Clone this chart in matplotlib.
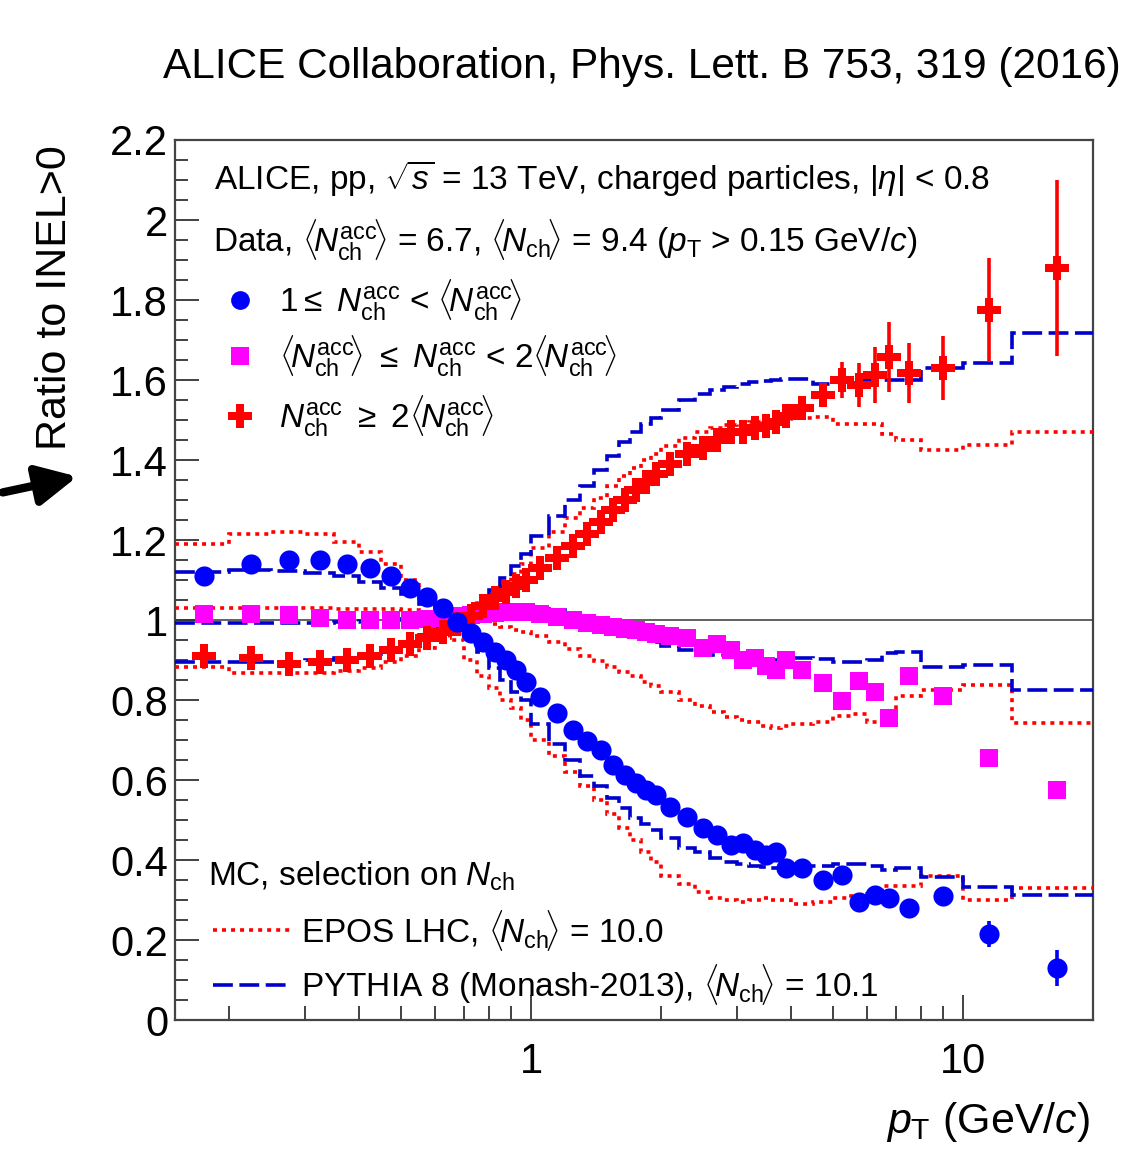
import matplotlib
matplotlib.use("Agg")
import matplotlib.pyplot as plt
import numpy as np

plt.rcParams["font.family"] = ["Liberation Sans", "DejaVu Sans"]
plt.rcParams["mathtext.fontset"] = "custom"
plt.rcParams["mathtext.rm"] = "Liberation Sans"
plt.rcParams["mathtext.it"] = "Liberation Sans:italic"
plt.rcParams["mathtext.bf"] = "Liberation Sans:bold"

# --- pT binning (GeV/c) ---
bin_edges = [0.15, 0.2, 0.25, 0.3, 0.35, 0.4, 0.45, 0.5, 0.55, 0.6, 0.65, 0.7,
             0.75, 0.8, 0.85, 0.9, 0.95, 1.0, 1.1, 1.2, 1.3, 1.4, 1.5, 1.6,
             1.7, 1.8, 1.9, 2.0, 2.2, 2.4, 2.6, 2.8, 3.0, 3.2, 3.4, 3.6, 3.8,
             4.0, 4.5, 5.0, 5.5, 6.0, 6.5, 7.0, 8.0, 10.0, 13.0, 20.0]

# --- data: ratio to INEL>0 per multiplicity class ---
data_low = [1.11, 1.14, 1.15, 1.15, 1.14, 1.13, 1.11, 1.08, 1.057, 1.03,
            0.995, 0.967, 0.946, 0.921, 0.90, 0.875, 0.845, 0.808, 0.767,
            0.725, 0.698, 0.675, 0.638, 0.613, 0.592, 0.575, 0.563, 0.533,
            0.508, 0.479, 0.463, 0.438, 0.442, 0.425, 0.413, 0.421, 0.379,
            0.379, 0.35, 0.363, 0.296, 0.313, 0.304, 0.279, 0.31, 0.215, 0.129]
data_mid = [1.015, 1.015, 1.012, 1.005, 1.0, 1.0, 1.0, 1.0, 1.002, 1.005,
            1.01, 1.012, 1.015, 1.018, 1.02, 1.02, 1.02, 1.015, 1.008, 1.0,
            0.993, 0.988, 0.983, 0.978, 0.975, 0.97, 0.965, 0.96, 0.955,
            0.93, 0.94, 0.925, 0.90, 0.905, 0.885, 0.875, 0.90, 0.875, 0.843,
            0.798, 0.848, 0.821, 0.754, 0.86, 0.81, 0.654, 0.575]
data_high = [0.91, 0.905, 0.89, 0.895, 0.90, 0.91, 0.925, 0.94, 0.955, 0.97,
             0.99, 1.01, 1.035, 1.055, 1.07, 1.085, 1.10, 1.13, 1.155, 1.185,
             1.215, 1.245, 1.275, 1.30, 1.325, 1.345, 1.365, 1.39, 1.415,
             1.43, 1.45, 1.47, 1.47, 1.48, 1.485, 1.495, 1.51, 1.53, 1.5625,
             1.60, 1.5875, 1.6125, 1.658, 1.617, 1.629, 1.775, 1.88]
# statistical errors, only visible in the last bins
err_low_tail = [0.0, 0.0, 0.0, 0.0, 0.0, 0.0, 0.0, 0.033, 0.045]
err_high_tail = [0.02, 0.046, 0.055, 0.07, 0.087, 0.075, 0.08, 0.13, 0.22]

# --- MC predictions, same binning ---
epos_low = [1.19, 1.215, 1.22, 1.215, 1.195, 1.17, 1.14, 1.10, 1.06, 1.0,
            0.95, 0.90, 0.86, 0.83, 0.80, 0.78, 0.75, 0.70, 0.66, 0.62,
            0.585, 0.55, 0.515, 0.48, 0.45, 0.42, 0.395, 0.36, 0.34, 0.32,
            0.305, 0.30, 0.295, 0.30, 0.305, 0.30, 0.30, 0.29, 0.295, 0.305,
            0.31, 0.315, 0.335, 0.335, 0.36, 0.30, 0.33]
epos_mid = [1.03, 1.03, 1.03, 1.03, 1.028, 1.028, 1.027, 1.025, 1.02, 1.015,
            1.01, 1.005, 0.998, 0.99, 0.983, 0.976, 0.97, 0.96, 0.945, 0.928,
            0.91, 0.897, 0.882, 0.87, 0.86, 0.845, 0.835, 0.82, 0.80, 0.785,
            0.77, 0.757, 0.75, 0.745, 0.735, 0.73, 0.735, 0.74, 0.745, 0.76,
            0.765, 0.745, 0.755, 0.81, 0.825, 0.8375, 0.742]
epos_high = [0.883, 0.867, 0.867, 0.867, 0.872, 0.88, 0.895, 0.91, 0.93,
             0.955, 0.975, 1.0, 1.03, 1.06, 1.09, 1.115, 1.14, 1.18, 1.22,
             1.255, 1.28, 1.305, 1.335, 1.36, 1.38, 1.40, 1.415, 1.435, 1.455,
             1.47, 1.48, 1.487, 1.49, 1.495, 1.497, 1.50, 1.502, 1.505, 1.508,
             1.49, 1.49, 1.49, 1.465, 1.45, 1.425, 1.4375, 1.47]
pythia_low = [1.12, 1.125, 1.122, 1.118, 1.11, 1.095, 1.08, 1.065, 1.04,
              1.02, 1.0, 0.96, 0.92, 0.88, 0.85, 0.82, 0.80, 0.74, 0.69,
              0.65, 0.61, 0.585, 0.555, 0.53, 0.505, 0.49, 0.475, 0.455,
              0.43, 0.42, 0.405, 0.395, 0.39, 0.385, 0.383, 0.38, 0.38, 0.385,
              0.385, 0.39, 0.39, 0.385, 0.375, 0.38, 0.358, 0.333, 0.3125]
pythia_mid = [0.993, 0.993, 0.993, 0.993, 0.995, 0.998, 1.0, 1.003, 1.007,
              1.012, 1.015, 1.018, 1.022, 1.025, 1.027, 1.028, 1.028, 1.028,
              1.025, 1.018, 1.008, 0.995, 0.985, 0.975, 0.963, 0.955, 0.945,
              0.935, 0.925, 0.918, 0.913, 0.91, 0.908, 0.905, 0.90, 0.90,
              0.905, 0.905, 0.903, 0.895, 0.895, 0.90, 0.918, 0.92, 0.883,
              0.8875, 0.825]
pythia_high = [0.896, 0.895, 0.896, 0.90, 0.906, 0.915, 0.927, 0.945, 0.962,
               0.98, 1.0, 1.025, 1.05, 1.075, 1.105, 1.135, 1.165, 1.21, 1.26,
               1.30, 1.335, 1.375, 1.41, 1.445, 1.47, 1.49, 1.505, 1.525,
               1.55, 1.565, 1.575, 1.583, 1.59, 1.595, 1.598, 1.60, 1.602,
               1.603, 1.59, 1.60, 1.60, 1.60, 1.60, 1.60, 1.63, 1.643, 1.717]

y_tick_vals = [0, 0.2, 0.4, 0.6, 0.8, 1, 1.2, 1.4, 1.6, 1.8, 2, 2.2]
y_tick_labels = ["0", "0.2", "0.4", "0.6", "0.8", "1", "1.2", "1.4", "1.6",
                 "1.8", "2", "2.2"]

edges = np.array(bin_edges)
centers = 0.5 * (edges[:-1] + edges[1:])

BLUE = "#0000ff"
DKBLUE = "#0000cc"
RED = "#ff0000"
MAGENTA = "#ff00ff"

fig = plt.figure(figsize=(11.24, 11.52), dpi=100)
ax = fig.add_axes([175 / 1124, 132 / 1152, 918 / 1124, 880 / 1152])
ax.set_xscale("log")
ax.set_xlim(0.15, 20)
ax.set_ylim(0, 2.2)

ax.axhline(1.0, color="#555555", lw=1.3, zorder=1)

# MC histograms
lw_mc = 2.6
dotted = (0, (1.1, 1.4))
dashed = (0, (5.5, 1.8))
for vals in (epos_low, epos_mid, epos_high):
    ax.stairs(vals, edges, color=RED, lw=lw_mc, linestyle=dotted, zorder=3,
              baseline=None)
for vals in (pythia_low, pythia_mid, pythia_high):
    ax.stairs(vals, edges, color=DKBLUE, lw=lw_mc, linestyle=dashed, zorder=3,
              baseline=None)

# data
n_tail = len(err_low_tail)
err_low = np.zeros(len(centers))
err_low[-n_tail:] = err_low_tail
err_high = np.zeros(len(centers))
err_high[-n_tail:] = err_high_tail

ax.errorbar(centers, data_mid, fmt="s", color=MAGENTA, ms=13, mew=0,
            zorder=4)
ax.errorbar(centers, data_high, yerr=err_high, fmt="P", color=RED, ms=17.5,
            mew=0, elinewidth=2.6, zorder=5)
ax.errorbar(centers, data_low, yerr=err_low, fmt="o", color=BLUE, ms=14.5,
            mew=0, elinewidth=2.6, zorder=6)

# axes styling
ax.set_yticks(y_tick_vals)
ax.set_yticklabels(y_tick_labels)
ax.set_yticks(np.arange(0, 2.2001, 0.05), minor=True)
ax.set_xticks([1, 10])
ax.set_xticklabels(["1", "10"])
ax.set_xticks([0.2, 0.3, 0.4, 0.5, 0.6, 0.7, 0.8, 0.9, 2, 3, 4, 5, 6, 7, 8,
               9, 20], minor=True)
ax.xaxis.set_minor_formatter(plt.NullFormatter())
ax.tick_params(which="both", direction="in", top=False, right=False,
               labelsize=30, width=1.3, color="#333333")
ax.tick_params(axis="y", which="major", length=17, pad=5)
ax.tick_params(axis="y", which="minor", length=9)
ax.tick_params(axis="x", which="major", length=18, pad=16)
ax.tick_params(axis="x", which="minor", length=10)
for sp in ax.spines.values():
    sp.set_linewidth(1.6)
    sp.set_color("#444444")

fs_in = 24
T = ax.transAxes
NACC = r"N_{\rm ch}^{\rm acc}"
MEAN_ACC = r"\langle\!" + NACC + r"\!\rangle"
MEAN_CH = r"\langle\!N_{\rm ch}\!\rangle"
ax.text(0.043, 0.957,
        r"ALICE, pp, $\sqrt{s}$ = 13 TeV, charged particles, $|\eta|$ < 0.8",
        transform=T, fontsize=fs_in, va="center")
ax.text(0.041, 0.886,
        "Data, $" + MEAN_ACC + "$ = 6.7, $" + MEAN_CH +
        r"$ = 9.4 ($p_{\rm T}$ > 0.15 GeV/$c$)",
        transform=T, fontsize=fs_in, va="center")

leg_labels = [
    r"1$\leq$ $" + NACC + "$ < $" + MEAN_ACC + "$",
    "$" + MEAN_ACC + r"$ $\leq$ $" + NACC + "$ < 2$" + MEAN_ACC + "$",
    "$" + NACC + r"$ $\geq$ 2$" + MEAN_ACC + "$",
]
leg_marks = [("o", BLUE, 13.5), ("s", MAGENTA, 12.5), ("P", RED, 17)]
leg_y = [0.818, 0.754, 0.686]
for (m, c, s), lab, yy in zip(leg_marks, leg_labels, leg_y):
    ax.plot([0.0708], [yy], marker=m, color=c, ms=s, mew=0, transform=T,
            clip_on=False, zorder=7)
    ax.text(0.113, yy, lab, transform=T, fontsize=fs_in, va="center")

ax.text(0.036, 0.163, r"MC, selection on $N_{\rm ch}$", transform=T,
        fontsize=fs_in, va="center")
ax.plot([0.041, 0.125], [0.102, 0.102], color=RED, lw=lw_mc, ls=dotted,
        transform=T)
ax.text(0.137, 0.102, "EPOS LHC, $" + MEAN_CH + "$ = 10.0",
        transform=T, fontsize=fs_in, va="center")
ax.plot([0.041, 0.125], [0.040, 0.040], color=DKBLUE, lw=lw_mc, ls=dashed,
        transform=T)
ax.text(0.137, 0.040,
        "PYTHIA 8 (Monash-2013), $" + MEAN_CH + "$ = 10.1",
        transform=T, fontsize=fs_in, va="center")

# figure texts
fig.text(0.997, 1 - 67 / 1152,
         "ALICE Collaboration, Phys. Lett. B 753, 319 (2016)",
         ha="right", va="center", fontsize=30.5)
fig.text(55 / 1124, 1 - 298 / 1152, "Ratio to INEL>0", rotation=90,
         ha="center", va="center", fontsize=31)
fig.text(1090 / 1124, 1 - 1122 / 1152, r"$p_{\rm T}$ (GeV/$c$)", ha="right",
         va="center", fontsize=31)
fig.patches.append(matplotlib.patches.FancyArrowPatch(
    (0 / 1124, 1 - 493 / 1152), (80 / 1124, 1 - 476 / 1152),
    transform=fig.transFigure, arrowstyle="-|>", mutation_scale=60,
    lw=6, color="black"))

fig.savefig("out.png", dpi=100)
